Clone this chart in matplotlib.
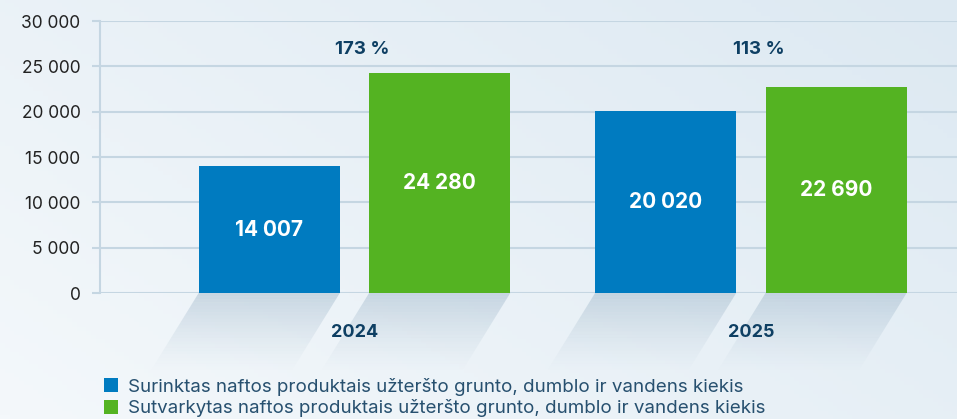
import numpy as np
import matplotlib.pyplot as plt
from matplotlib.colors import LinearSegmentedColormap
from matplotlib.patches import Patch, Polygon

years = ["2024", "2025"]
collected = [14007, 20020]
treated = [24280, 22690]
percent = ["173 %", "113 %"]
series_names = [
    "Surinktas naftos produktais užteršto grunto, dumblo ir vandens kiekis",
    "Sutvarkytas naftos produktais užteršto grunto, dumblo ir vandens kiekis",
]
yticks = [0, 5000, 10000, 15000, 20000, 25000, 30000]

blue = "#007bc0"
green = "#54b322"
dark = "#0e3f63"

plt.rcParams['font.family'] = ['Inter', 'DejaVu Sans']

fig = plt.figure(figsize=(9.57, 4.19), dpi=100)
# light gradient background
bg = fig.add_axes([0, 0, 1, 1], zorder=-10)
gx, gy = np.meshgrid(np.linspace(0, 1, 200), np.linspace(0, 1, 100))
grad = 0.6 * gx + 0.4 * (1 - gy)
bg.imshow(grad, cmap=LinearSegmentedColormap.from_list("bgc", ["#f4f8fb", "#dde9f2"]),
          aspect="auto", extent=[0, 1, 0, 1], origin="upper")
bg.set_xlim(0, 1)
bg.set_ylim(0, 1)
bg.axis("off")

ax = fig.add_axes([100 / 957, 1 - 293 / 419, 857 / 957, 272 / 419])
ax.set_facecolor("none")

x = np.arange(len(years))
w = 0.356
off = 0.215
b1 = ax.bar(x - off, collected, w, color=blue, zorder=3)
b2 = ax.bar(x + off, treated, w, color=green, zorder=3)

# soft fading shadows under the bars, built from thin strips
dx, dy, n = 0.12, -8500, 24
for r in list(b1) + list(b2):
    x0 = r.get_x()
    x1 = x0 + r.get_width()
    for k in range(n):
        t0, t1 = k / n, (k + 1) / n
        pts = [(x0 - dx * t0, dy * t0), (x1 - dx * t0, dy * t0),
               (x1 - dx * t1, dy * t1), (x0 - dx * t1, dy * t1)]
        ax.add_patch(Polygon(pts, closed=True, facecolor="#8eaac0", edgecolor="none",
                             alpha=0.38 * (1 - t0) ** 1.3, clip_on=False, zorder=1))

for r, v in zip(list(b1) + list(b2), collected + treated):
    ax.text(r.get_x() + r.get_width() / 2, v / 2, f"{v:,}".replace(",", " "),
            ha="center", va="center", color="white", fontsize=15, fontweight="bold", zorder=4)

for i, p in enumerate(percent):
    ax.text(x[i] + 0.02, 26900, p, ha="center", va="center", color=dark,
            fontsize=13.5, fontweight="bold", zorder=4)

ax.set_xlim(-0.642, 1.52)
ax.set_ylim(0, 30000)
ax.set_yticks(yticks)
ax.set_yticklabels([f"{t:,}".replace(",", " ") for t in yticks], fontsize=12.5, color="#222222")
ax.set_xticks(x)
ax.set_xticklabels(years, fontsize=13, fontweight="bold", color=dark)
ax.tick_params(axis="x", length=0, pad=22)
ax.tick_params(axis="y", length=6, color="#c5d6e2", width=1.5, pad=8)
ax.grid(axis="y", color="#c5d6e2", linewidth=1.5, zorder=0)
for s in ["top", "right", "bottom"]:
    ax.spines[s].set_visible(False)
ax.spines["left"].set_color("#c5d6e2")
ax.spines["left"].set_linewidth(1.5)

handles = [Patch(facecolor=blue), Patch(facecolor=green)]
leg = fig.legend(handles, series_names, loc="upper left", bbox_to_anchor=(96 / 957, 1 - 370 / 419),
                 frameon=False, fontsize=13.5, handlelength=0.75, handleheight=0.75,
                 handletextpad=0.55, labelspacing=0.2, borderaxespad=0)
for t in leg.get_texts():
    t.set_color("#27506f")

fig.savefig("out.png", dpi=100)
